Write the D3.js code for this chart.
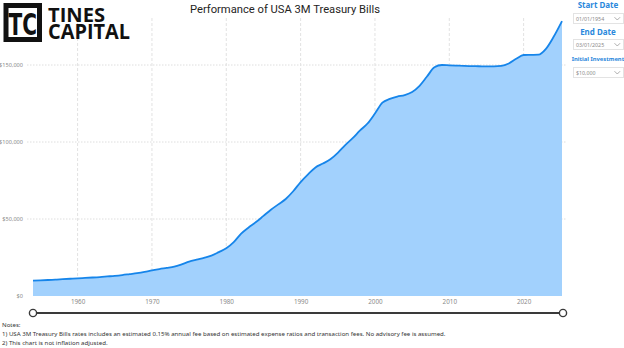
<!DOCTYPE html>
<html>
<head>
<meta charset="utf-8">
<script src="https://cdn.jsdelivr.net/npm/d3@7"></script>
<style>
  html, body { margin: 0; padding: 0; background: #fff; }
  svg { display: block; }
</style>
</head>
<body>
<svg id="chart" width="624" height="348"></svg>
<script>
// ---- Data ----
const dates = [
  "1954-01-01","1955-01-01","1956-01-01","1957-01-01","1958-01-01","1959-01-01",
  "1960-01-01","1961-01-01","1962-01-01","1963-01-01","1964-01-01","1965-01-01",
  "1966-01-01","1967-01-01","1968-01-01","1969-01-01","1970-01-01","1971-01-01",
  "1972-01-01","1973-01-01","1974-01-01","1975-01-01","1976-01-01","1977-01-01",
  "1978-01-01","1979-01-01","1980-01-01","1981-01-01","1982-01-01","1983-01-01",
  "1984-01-01","1985-01-01","1986-01-01","1987-01-01","1988-01-01","1989-01-01",
  "1990-01-01","1991-01-01","1992-01-01","1993-01-01","1994-01-01","1995-01-01",
  "1996-01-01","1997-01-01","1998-01-01","1999-01-01","2000-01-01","2001-01-01",
  "2002-01-01","2003-01-01","2004-01-01","2005-01-01","2006-01-01","2007-01-01",
  "2008-01-01","2009-01-01","2010-01-01","2011-01-01","2012-01-01","2013-01-01",
  "2014-01-01","2015-01-01","2016-01-01","2017-01-01","2018-01-01","2019-01-01",
  "2020-01-01","2021-01-01","2022-01-01","2023-01-01","2024-01-01","2025-03-01"
];
const portfolioValues = [
  10000,10150,10380,10650,10900,11200,
  11500,11750,12000,12300,12700,13100,
  13600,14200,14800,15600,16600,17500,
  18200,19000,20500,22300,23600,24800,
  26200,28500,31000,35000,40500,44500,
  48000,52000,56000,59500,63000,68000,
  74000,79000,83500,86000,88800,93000,
  98000,102500,107500,112000,118500,125500,
  128000,129500,130500,132500,136500,142500,
  148500,150000,149800,149600,149400,149300,
  149200,149100,149100,149400,151000,154000,
  156500,156600,156700,160500,168000,178500
];
const yTickValues = [0, 50000, 100000, 150000];
const yTickLabels = ["$0", "$50,000", "$100,000", "$150,000"];
const xTickYears = [1960, 1970, 1980, 1990, 2000, 2010, 2020];

const chartTitle = "Performance of USA 3M Treasury Bills";
const filterLabels = ["Start Date", "End Date", "Initial Investment"];
const filterValues = ["01/01/1954", "03/01/2025", "$10,000"];
const notes = [
  "Notes:",
  "1) USA 3M Treasury Bills rates includes an estimated 0.15% annual fee based on estimated expense ratios and transaction fees. No advisory fee is assumed.",
  "2) This chart is not inflation adjusted."
];

// ---- Build ----
const parse = d3.timeParse("%Y-%m-%d");
const data = dates.map((d, i) => ({ date: parse(d), value: portfolioValues[i] }));

const svg = d3.select("#chart");
const x = d3.scaleTime()
  .domain([parse(dates[0]), parse(dates[dates.length - 1])])
  .range([33, 562]);
const y = d3.scaleLinear().domain([0, 180000]).range([296, 18.8]);

const tickFont = "'Noto Sans', 'Open Sans', sans-serif";

// gridlines
const grid = svg.append("g");
grid.selectAll("line.h").data(yTickValues.filter(v => v > 0)).join("line")
  .attr("x1", 27).attr("x2", 567)
  .attr("y1", d => y(d)).attr("y2", d => y(d))
  .attr("stroke", "#dedede").attr("stroke-width", 1)
  .attr("stroke-dasharray", "1.5,1.5");
grid.selectAll("line.v").data(xTickYears).join("line")
  .attr("x1", d => x(new Date(d, 0, 1))).attr("x2", d => x(new Date(d, 0, 1)))
  .attr("y1", 18).attr("y2", 296)
  .attr("stroke", "#e2e2e2").attr("stroke-width", 1)
  .attr("stroke-dasharray", "3,2");

// area + line
const area = d3.area().x(d => x(d.date)).y0(y(0)).y1(d => y(d.value)).curve(d3.curveMonotoneX);
const line = d3.line().x(d => x(d.date)).y(d => y(d.value)).curve(d3.curveMonotoneX);
svg.append("path").datum(data).attr("d", area).attr("fill", "#a2d1fd");
svg.append("path").datum(data).attr("d", line)
  .attr("fill", "none").attr("stroke", "#1685ea").attr("stroke-width", 1.8)
  .attr("stroke-linejoin", "round");

// y axis
const yAxis = d3.axisLeft(y).tickValues(yTickValues)
  .tickFormat((d, i) => yTickLabels[i]).tickSize(0).tickPadding(0);
const gy = svg.append("g").attr("transform", "translate(23,0)").call(yAxis);
gy.select(".domain").remove();
gy.selectAll("text").attr("font-family", tickFont).attr("font-size", 5.6)
  .attr("fill", "#8a8a8a").attr("dy", "0.32em");

// x axis
const xAxis = d3.axisBottom(x).tickValues(xTickYears.map(yr => new Date(yr, 0, 1)))
  .tickFormat(d3.timeFormat("%Y")).tickSize(0).tickPadding(0);
const gx = svg.append("g").attr("transform", "translate(0,300)").call(xAxis);
gx.select(".domain").remove();
gx.selectAll("text").attr("font-family", tickFont).attr("font-size", 6.3)
  .attr("fill", "#8a8a8a").attr("dy", "0.71em");

// slider
const slider = svg.append("g");
slider.append("line").attr("x1", x.range()[0]).attr("x2", x.range()[1] + 1)
  .attr("y1", 313).attr("y2", 313).attr("stroke", "#3a3a3a").attr("stroke-width", 2);
slider.selectAll("circle").data([x.range()[0], x.range()[1] + 1]).join("circle")
  .attr("cx", d => d).attr("cy", 313).attr("r", 3.6)
  .attr("fill", "#fff").attr("stroke", "#3a3a3a").attr("stroke-width", 1.4);

// title
svg.append("text").attr("x", 285).attr("y", 13.3).attr("text-anchor", "middle")
  .attr("font-family", "Roboto, 'Noto Sans', sans-serif").attr("font-size", 10.5)
  .attr("fill", "#252423").attr("textLength", 190).attr("lengthAdjust", "spacingAndGlyphs")
  .text(chartTitle);

// logo
const logo = svg.append("g");
logo.append("rect").attr("x", 6).attr("y", 5.5).attr("width", 33.5).attr("height", 34)
  .attr("fill", "#fff").attr("stroke", "#111").attr("stroke-width", 5);
logo.append("text").attr("x", 8.5).attr("y", 35).attr("font-family", "'DejaVu Sans', sans-serif")
  .attr("font-weight", "bold").attr("font-size", 30).attr("fill", "#111")
  .attr("textLength", 28.5).attr("lengthAdjust", "spacingAndGlyphs").text("TC");
const word = logo.append("text").attr("font-family", "'Open Sans', sans-serif")
  .attr("font-weight", "bold").attr("fill", "#111");
word.append("tspan").attr("x", 48).attr("y", 22).attr("font-size", 19.5)
  .attr("textLength", 57).attr("lengthAdjust", "spacingAndGlyphs").text("TINES");
word.append("tspan").attr("x", 48).attr("y", 38.5).attr("font-size", 20.5)
  .attr("textLength", 82).attr("lengthAdjust", "spacingAndGlyphs").text("CAPITAL");

// filter panel
const panel = svg.append("g");
const labelY = [7.5, 35, 61];
const labelSize = [8, 8, 5.8];
const boxY = [13, 39, 67];
filterLabels.forEach((lab, i) => {
  panel.append("text").attr("x", 598).attr("y", labelY[i]).attr("text-anchor", "middle")
    .attr("font-family", tickFont).attr("font-weight", "bold").attr("font-size", labelSize[i])
    .attr("fill", "#2a88dc").text(lab);
  panel.append("rect").attr("x", 573.5).attr("y", boxY[i] + 0.5).attr("width", 50).attr("height", 10)
    .attr("fill", "#fff").attr("stroke", "#e3e3e3").attr("stroke-width", 1);
  panel.append("text").attr("x", 576).attr("y", boxY[i] + 7.5)
    .attr("font-family", tickFont).attr("font-size", 5.3).attr("fill", "#8a8a8a").text(filterValues[i]);
  panel.append("path").attr("d", `M614.5,${boxY[i] + 4.2} L617.3,${boxY[i] + 7} L620.1,${boxY[i] + 4.2}`)
    .attr("fill", "none").attr("stroke", "#999").attr("stroke-width", 0.8);
});

// notes
const noteY = [327, 336, 345];
notes.forEach((t, i) => {
  svg.append("text").attr("x", 2).attr("y", noteY[i])
    .attr("font-family", tickFont).attr("font-size", 6.1).attr("fill", "#333").text(t);
});
</script>
</body>
</html>
